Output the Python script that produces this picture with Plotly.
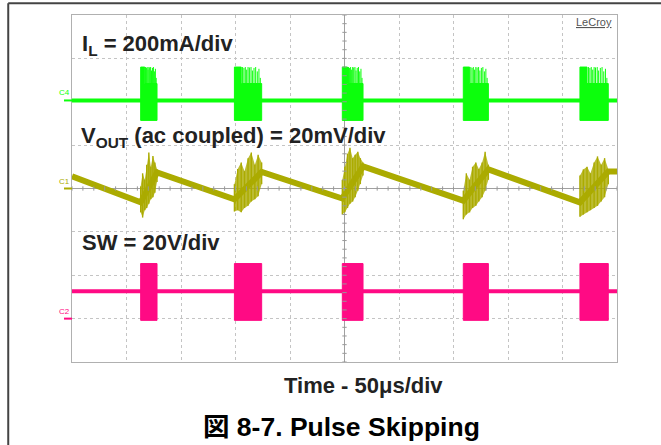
import plotly.graph_objects as go

# ---- data (time in us, levels in divisions) ----
burst_t0 = [-187, -101, -2, 109, 216]
burst_t1 = [-172, -76, 17, 132, 242]

# inductor current (C4, green)
il_level = 2.03
il_lo = 1.57
il_mid = 2.42
il_top = 2.80
il_solid_frac = 0.25
il_spike_frac = [0.30, 0.35, 0.40, 0.45, 0.50, 0.55, 0.61, 0.66, 0.72, 0.78, 0.84, 0.90, 0.95]
il_spike_top = [2.80, 2.78, 2.80, 2.74, 2.80, 2.79, 2.80, 2.72, 2.78, 2.80, 2.70, 2.76, 2.55]

# output ripple (C1, olive) - sawtooth vertices
vout_t = [-250, -187, -172, -101, -76, -2, 17, 109, 132, 216, 242, 250]
vout_v = [0.28, -0.32, 0.37, -0.25, 0.38, -0.23, 0.51, -0.28, 0.44, -0.32, 0.39, 0.39]
vout_spike_frac = [0.0, 0.12, 0.25, 0.37, 0.50, 0.62, 0.75, 0.87, 1.0]
vout_spike_hi = [
    [0.05, 0.35, 0.20, 0.55, 0.83, 0.50, 0.75, 0.60, 0.45],
    [0.10, 0.45, 0.60, 0.40, 0.70, 0.83, 0.55, 0.78, 0.60],
    [0.20, 0.50, 0.80, 0.94, 0.70, 0.78, 0.85, 0.70, 0.60],
    [-0.05, 0.35, 0.20, 0.50, 0.60, 0.45, 0.60, 0.85, 0.55],
    [0.30, 0.44, 0.50, 0.35, 0.60, 0.74, 0.55, 0.70, 0.45],
]
vout_spike_lo = [
    [-0.55, -0.67, -0.50, -0.45, -0.35, -0.25, -0.20, -0.10, 0.15],
    [-0.53, -0.50, -0.55, -0.45, -0.40, -0.30, -0.25, -0.18, 0.10],
    [-0.60, -0.55, -0.45, -0.35, -0.30, -0.20, -0.05, 0.10, 0.30],
    [-0.71, -0.60, -0.55, -0.45, -0.40, -0.30, -0.20, -0.05, 0.20],
    [-0.65, -0.60, -0.55, -0.50, -0.45, -0.40, -0.30, -0.20, 0.10],
]

# switch node (C2, pink)
sw_level = -2.37
sw_lo = -3.04
sw_hi = -1.73

# channel offsets (left markers)
ch_names = ["C4", "C1", "C2"]
ch_offsets = [2.03, 0.0, -3.0]

GREEN = "#0cff0c"
OLIVE = "#abab00"
PINK = "#ff0a84"
FONT = "Liberation Sans, Arial, Noto Sans CJK JP, sans-serif"

fig = go.Figure()

# IL baseline + bursts
fig.add_trace(go.Scatter(x=[-250, 250], y=[il_level, il_level], mode="lines",
                         line=dict(color=GREEN, width=4)))
bx, by = [], []
for a, b in zip(burst_t0, burst_t1):
    w = b - a
    bx += [a, a, a + il_solid_frac * w, a + il_solid_frac * w, b, b, a, None]
    by += [il_lo, il_top, il_top, il_mid, il_mid, il_lo, il_lo, None]
fig.add_trace(go.Scatter(x=bx, y=by, mode="lines", fill="toself", fillcolor=GREEN,
                         line=dict(color=GREEN, width=1)))
sx, sy = [], []
for a, b in zip(burst_t0, burst_t1):
    for f, top in zip(il_spike_frac, il_spike_top):
        t = a + f * (b - a)
        sx += [t, t, None]
        sy += [il_mid, top, None]
fig.add_trace(go.Scatter(x=sx, y=sy, mode="lines", line=dict(color=GREEN, width=1)))

# Vout sawtooth + noisy bursts
fig.add_trace(go.Scatter(x=vout_t, y=vout_v, mode="lines",
                         line=dict(color=OLIVE, width=6)))
for a, b, hi, lo in zip(burst_t0, burst_t1, vout_spike_hi, vout_spike_lo):
    ts = [a + f * (b - a) for f in vout_spike_frac]
    fig.add_trace(go.Scatter(x=ts + ts[::-1], y=hi + lo[::-1], mode="lines",
                             fill="toself", fillcolor="rgba(171,171,0,0.8)",
                             line=dict(width=0)))
    px_, py_ = [], []
    for t, h, l in zip(ts, hi, lo):
        px_ += [t, t, None]
        py_ += [l, h, None]
    fig.add_trace(go.Scatter(x=px_, y=py_, mode="lines", line=dict(color=OLIVE, width=1.4)))

# SW baseline + bursts
fig.add_trace(go.Scatter(x=[-250, 250], y=[sw_level, sw_level], mode="lines",
                         line=dict(color=PINK, width=4)))
rx, ry = [], []
for a, b in zip(burst_t0, burst_t1):
    rx += [a, a, b, b, a, None]
    ry += [sw_lo, sw_hi, sw_hi, sw_lo, sw_lo, None]
fig.add_trace(go.Scatter(x=rx, y=ry, mode="lines", fill="toself", fillcolor=PINK,
                         line=dict(color=PINK, width=1)))

# trigger markers
fig.add_trace(go.Scatter(x=[0], y=[-4.08], mode="markers", cliponaxis=False,
                         marker=dict(symbol="triangle-up", size=7, color=PINK)))
fig.add_trace(go.Scatter(x=[255], y=[sw_level], mode="markers", cliponaxis=False,
                         marker=dict(symbol="triangle-left", size=7, color=PINK)))

shapes = []
# center-line ticks
for i in range(51):
    t = -250 + 10 * i
    shapes.append(dict(type="line", xref="x", yref="y", x0=t, x1=t, y0=-0.05, y1=0.05,
                       line=dict(color="#999999", width=1)))
for i in range(41):
    v = -4 + 0.2 * i
    shapes.append(dict(type="line", xref="x", yref="y", x0=-2, x1=2, y0=v, y1=v,
                       line=dict(color="#999999", width=1)))
# outer frame
shapes.append(dict(type="line", xref="paper", yref="paper", x0=-0.117, x1=1.1,
                   y0=1.034, y1=1.034, line=dict(color="#444444", width=2)))
shapes.append(dict(type="line", xref="paper", yref="paper", x0=-0.117, x1=-0.117,
                   y0=-0.25, y1=1.034, line=dict(color="#444444", width=2)))

annotations = []
for name, off, col in zip(ch_names, ch_offsets, [GREEN, OLIVE, PINK]):
    shapes.append(dict(type="line", xref="paper", yref="y", x0=-0.0147, x1=0,
                       y0=off, y1=off, line=dict(color=col, width=2)))
    annotations.append(dict(xref="paper", yref="y", x=0, y=off, text=name,
                            showarrow=False, xanchor="right", yanchor="bottom",
                            yshift=1, font=dict(family=FONT, size=8, color=col)))

label_font = dict(family=FONT, size=22, color="#222222")
annotations += [
    dict(x=-243, y=3.3, xref="x", yref="y", text="<b>I<sub>L</sub> = 200mA/div</b>",
         showarrow=False, xanchor="left", yanchor="middle", font=label_font),
    dict(x=-244, y=1.18, xref="x", yref="y",
         text="<b>V<sub>OUT</sub> (ac coupled) = 20mV/div</b>",
         showarrow=False, xanchor="left", yanchor="middle", font=label_font),
    dict(x=-243, y=-1.24, xref="x", yref="y", text="<b>SW = 20V/div</b>",
         showarrow=False, xanchor="left", yanchor="middle", font=label_font),
    dict(x=0.535, y=-0.069, xref="paper", yref="paper", text="<b>Time - 50μs/div</b>",
         showarrow=False, xanchor="center", yanchor="middle", font=label_font),
    dict(x=0.4936, y=-0.187, xref="paper", yref="paper",
         text="<b>図 8-7. Pulse Skipping</b>", showarrow=False,
         xanchor="center", yanchor="middle",
         font=dict(family=FONT, size=26.5, color="#000000")),
    dict(x=0.995, y=0.98, xref="paper", yref="paper", text="<u>LeCroy</u>",
         showarrow=False, xanchor="right", yanchor="middle",
         font=dict(family=FONT, size=11, color="#555555")),
]

axis_common = dict(showticklabels=False, ticks="", showgrid=True, griddash="dot",
                   gridcolor="#c4c4c4", gridwidth=1, zeroline=True,
                   zerolinecolor="#a0a0a0", zerolinewidth=1, showline=True,
                   mirror=True, linecolor="#b0b0b0", linewidth=1, fixedrange=True)
fig.update_layout(
    width=661, height=445,
    margin=dict(l=72, r=44, t=15, b=83),
    paper_bgcolor="white", plot_bgcolor="white",
    showlegend=False,
    xaxis=dict(range=[-250, 250], tick0=-250, dtick=50, **axis_common),
    yaxis=dict(range=[-4, 4], tick0=-4, dtick=1, **axis_common),
    shapes=shapes,
    annotations=annotations,
)

fig.write_html("out.html", config={"displayModeBar": False},
               post_script="document.body.style.margin='0';")
